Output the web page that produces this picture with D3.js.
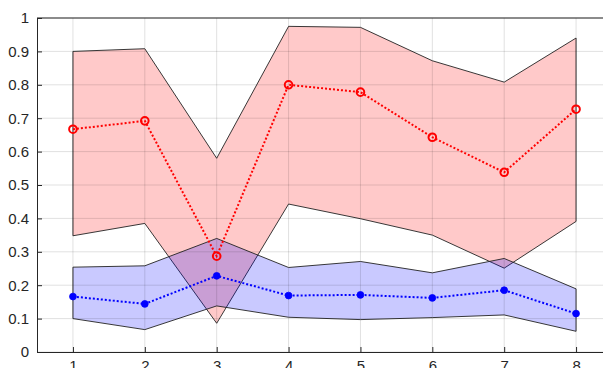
<!DOCTYPE html>
<html><head><meta charset="utf-8">
<script src="https://cdn.jsdelivr.net/npm/d3@7"></script>
<style>body{margin:0;background:#fff;overflow:hidden}svg{display:block}</style>
</head><body>
<svg id="c" width="603" height="368"></svg>
<script>
const xs = [1,2,3,4,5,6,7,8];
const redMean  = [0.667,0.692,0.287,0.800,0.778,0.643,0.538,0.727];
const redUpper = [0.900,0.908,0.580,0.975,0.972,0.872,0.808,0.940];
const redLower = [0.348,0.385,0.086,0.443,0.399,0.350,0.251,0.391];
const blueMean  = [0.166,0.144,0.228,0.169,0.171,0.162,0.185,0.115];
const blueUpper = [0.254,0.258,0.340,0.253,0.271,0.237,0.280,0.189];
const blueLower = [0.100,0.067,0.138,0.104,0.097,0.103,0.111,0.062];
const yTicks = [0,0.1,0.2,0.3,0.4,0.5,0.6,0.7,0.8,0.9,1];
const yLabels = ["0","0.1","0.2","0.3","0.4","0.5","0.6","0.7","0.8","0.9","1"];

const svg = d3.select("#c");
const L=37, R=612, T=18, B=352;
const x = d3.scaleLinear().domain([0.5,8.5]).range([L,R]);
const y = d3.scaleLinear().domain([0,1]).range([B,T]);

function band(up, lo, fill){
  const area = d3.area().x((d,i)=>x(xs[i])).y0((d,i)=>y(lo[i])).y1((d,i)=>y(up[i]));
  svg.append("path").datum(up).attr("d",area).attr("fill",fill).attr("fill-opacity",0.21)
    .attr("stroke","#222").attr("stroke-width",0.9).attr("stroke-linejoin","miter");
}
band(redUpper, redLower, "#ff0000");
band(blueUpper, blueLower, "#0000ff");

// grid
const g = svg.append("g");
yTicks.forEach(t=>g.append("line").attr("x1",L).attr("x2",R).attr("y1",y(t)).attr("y2",y(t))
  .attr("stroke","#000").attr("stroke-opacity",0.12).attr("stroke-width",1));
xs.forEach(t=>g.append("line").attr("x1",x(t)).attr("x2",x(t)).attr("y1",T).attr("y2",B)
  .attr("stroke","#000").attr("stroke-opacity",0.12).attr("stroke-width",1));

function series(vals, color, open){
  const line = d3.line().x((d,i)=>x(xs[i])).y(d=>y(d));
  svg.append("path").datum(vals).attr("d",line).attr("fill","none").attr("stroke",color)
    .attr("stroke-width",2).attr("stroke-dasharray","2,2");
  svg.selectAll(null).data(vals).enter().append("circle")
    .attr("cx",(d,i)=>x(xs[i])).attr("cy",d=>y(d))
    .attr("r", open?3.8:3.4)
    .attr("fill", open?"none":color).attr("stroke",color).attr("stroke-width", open?2:0.8);
}
series(redMean, "#ff0000", true);
series(blueMean, "#0000ff", false);

// axes
const axC = "#262626";
const yAxis = d3.axisLeft(y).tickValues(yTicks).tickFormat((d,i)=>yLabels[i]).tickSizeInner(-5).tickSizeOuter(0).tickPadding(8);
const ya = svg.append("g").attr("transform",`translate(${L},0)`).call(yAxis);
const xAxis = d3.axisBottom(x).tickValues(xs).tickFormat(d=>String(d)).tickSizeInner(-5).tickSizeOuter(0).tickPadding(8);
const xa = svg.append("g").attr("transform",`translate(0,${B})`).call(xAxis);
[ya,xa].forEach(a=>{
  a.select(".domain").attr("stroke",axC).attr("stroke-width",1);
  a.selectAll(".tick line").attr("stroke",axC);
  a.selectAll(".tick text").attr("fill",axC).attr("font-family","Liberation Sans, Arial, sans-serif").attr("font-size",15);
});
svg.append("line").attr("x1",L).attr("x2",R).attr("y1",T).attr("y2",T).attr("stroke",axC).attr("stroke-width",1);
</script>
</body></html>
